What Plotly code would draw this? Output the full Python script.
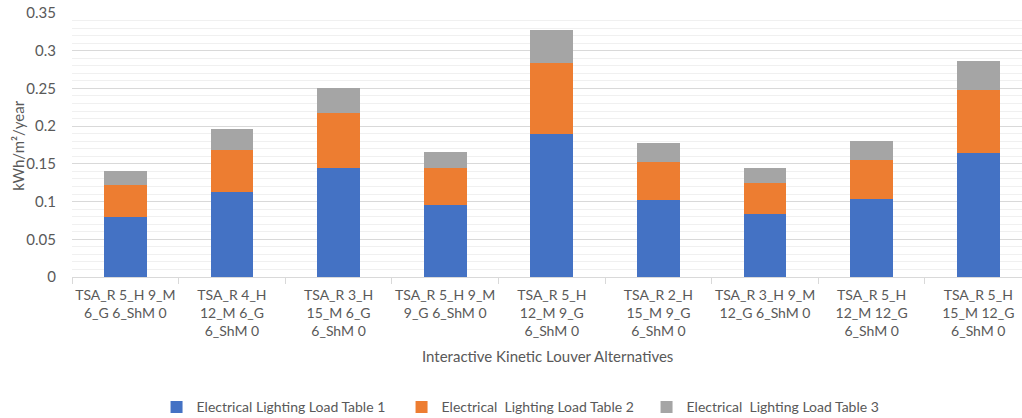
import plotly.graph_objects as go

categories = [
    "TSA_R 5_H 9_M<br>6_G 6_ShM 0",
    "TSA_R 4_H<br>12_M 6_G<br>6_ShM 0",
    "TSA_R 3_H<br>15_M 6_G<br>6_ShM 0",
    "TSA_R 5_H 9_M<br>9_G 6_ShM 0",
    "TSA_R 5_H<br>12_M 9_G<br>6_ShM 0",
    "TSA_R 2_H<br>15_M 9_G<br>6_ShM 0",
    "TSA_R 3_H 9_M<br>12_G 6_ShM 0",
    "TSA_R 5_H<br>12_M 12_G<br>6_ShM 0",
    "TSA_R 5_H<br>15_M 12_G<br>6_ShM 0",
]
table1 = [0.080, 0.113, 0.145, 0.096, 0.190, 0.102, 0.083, 0.104, 0.165]
table2 = [0.042, 0.055, 0.072, 0.048, 0.094, 0.051, 0.042, 0.051, 0.083]
table3 = [0.018, 0.028, 0.034, 0.022, 0.044, 0.024, 0.020, 0.025, 0.038]

series_names = ["Electrical Lighting Load Table 1",
                "Electrical  Lighting Load Table 2",
                "Electrical  Lighting Load Table 3"]
colors = ["#4472C4", "#ED7D31", "#A5A5A5"]

FONT = "Lato"
TXT = "#595959"

fig = go.Figure()
for name, vals, c in zip(series_names, [table1, table2, table3], colors):
    fig.add_trace(go.Bar(x=categories, y=vals, name=name, marker=dict(color=c, line=dict(width=0))))

fig.update_layout(
    barmode="stack",
    bargap=0.6,
    width=1022, height=418,
    margin=dict(l=72, r=0, t=13, b=141, autoexpand=False),
    paper_bgcolor="white", plot_bgcolor="white",
    font=dict(family=FONT, size=14, color=TXT),
    showlegend=True,
    legend=dict(orientation="h", x=0.089, xanchor="left", y=-0.494, yanchor="middle",
                font=dict(size=14, color=TXT), itemwidth=30, entrywidth=200,
                traceorder="normal", bgcolor="rgba(0,0,0,0)"),
)
fig.update_yaxes(
    range=[0, 0.35], dtick=0.05, tickformat="~g", automargin=False,
    showgrid=True, gridcolor="#D9D9D9", gridwidth=1,
    minor=dict(dtick=0.01, showgrid=True, gridcolor="#F0F0F0", gridwidth=1),
    zeroline=False, showline=False,
    ticklabelstandoff=15,
    tickfont=dict(size=15, color=TXT),
)
fig.update_xaxes(
    range=[-0.5, 8.41], automargin=False,
    tickangle=0,
    showline=True, linecolor="#D9D9D9", linewidth=1,
    ticks="outside", tickson="boundaries", ticklen=6, tickcolor="#D9D9D9",
    ticklabelstandoff=5,
    tickfont=dict(size=14, color=TXT),
    showgrid=False,
)
fig.add_annotation(text="kWh/m²/year", xref="paper", yref="paper", textangle=-90,
                   x=-0.057, y=0.5, xanchor="center", yanchor="middle", showarrow=False,
                   font=dict(size=15, color=TXT))
fig.add_annotation(text="Interactive Kinetic Louver Alternatives", xref="paper", yref="paper",
                   x=0.5, y=-0.30, xanchor="center", yanchor="middle", showarrow=False,
                   font=dict(size=15, color=TXT))

fig.write_html("out.html", config={"displayModeBar": False},
               post_script="document.body.style.margin='0';")
